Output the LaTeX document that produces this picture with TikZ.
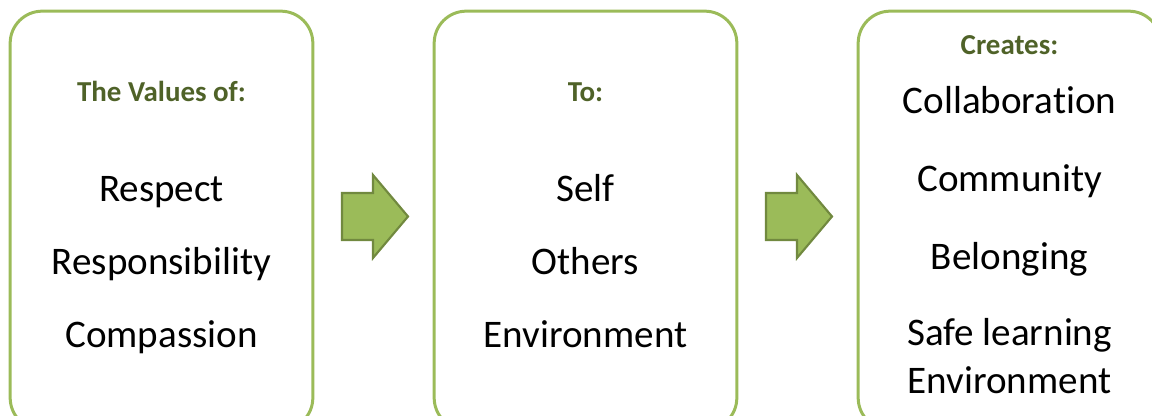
\documentclass[tikz,border=0pt]{standalone}
\usepackage{fontspec}
\setmainfont{Carlito}[Ligatures=NoCommon]
\definecolor{boxgreen}{HTML}{9BBB59}
\definecolor{headgreen}{HTML}{4F6228}
\definecolor{arrowline}{HTML}{71893F}
\begin{document}
\begin{tikzpicture}[x=0.75pt, y=-0.75pt]
        \tikzstyle{box_style} = [draw=boxgreen, line width=2.25pt, rounded corners=24pt, minimum width=227pt, minimum height=314pt]
        \tikzstyle{head_style} = [anchor=base, text=headgreen, font=\fontsize{21.7}{26}\selectfont\bfseries]
        \tikzstyle{item_style} = [anchor=base, text=black, font=\fontsize{29.3}{36}\selectfont]
        \tikzstyle{arrow_style1} = [draw=arrowline, fill=boxgreen, line width=1.6pt, line join=miter]

        \clip (0,0) rectangle (1152,416);
        \useasboundingbox (0,0) rectangle (1152,416);

        % The three boxes
        \node[box_style] (values) at (161.5,220.5) {};
        \node[box_style] (to) at (585.5,220.5) {};
        \node[box_style] (creates) at (1009.5,220.5) {};

        % Left box
        \node[head_style] (valuesHead) at (161.5,102) {The Values of:};
        \node[item_style] (respect) at (161.5,202) {Respect};
        \node[item_style] (responsibility) at (161.5,275) {Responsibility};
        \node[item_style] (compassion) at (161.5,348) {Compassion};

        % Middle box
        \node[head_style] (toHead) at (585.5,102) {To:};
        \node[item_style] (self) at (585.5,202) {Self};
        \node[item_style] (others) at (585.5,275) {Others};
        \node[item_style] (environment) at (585.5,348) {Environment};

        % Right box
        \node[head_style] (createsHead) at (1009.5,55) {Creates:};
        \node[item_style] (collaboration) at (1009.5,114) {Collaboration};
        \node[item_style] (community) at (1009.5,192) {Community};
        \node[item_style] (belonging) at (1009.5,270) {Belonging};
        \node[item_style, align=center] (safe) at (1009.5,393) {Safe learning\\Environment};

        % Then the two block arrows
        \draw[arrow_style1] (342,193) -- (373,193) -- (373,175) -- (408,216.5)
            -- (373,258) -- (373,240) -- (342,240) -- cycle;
        \draw[arrow_style1] (766,193) -- (797,193) -- (797,175) -- (832,216.5)
            -- (797,258) -- (797,240) -- (766,240) -- cycle;
    \end{tikzpicture}
\end{document}
